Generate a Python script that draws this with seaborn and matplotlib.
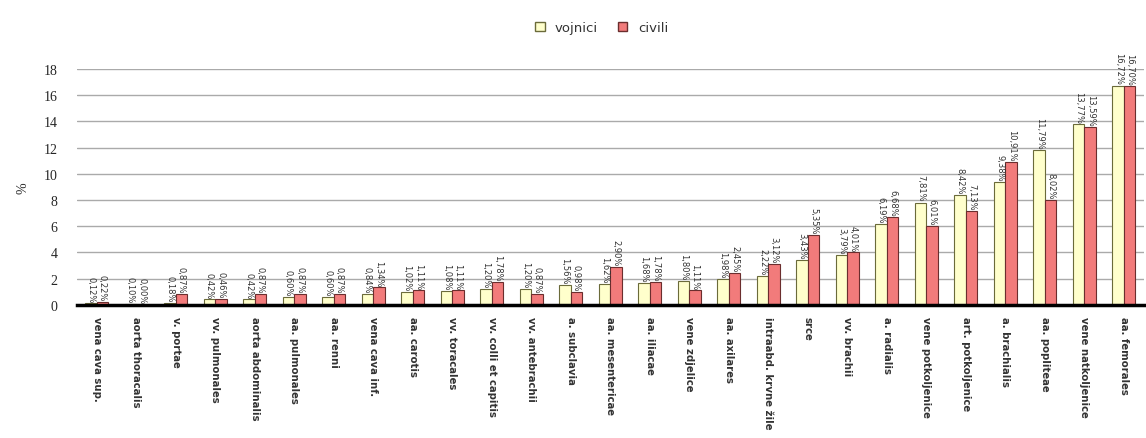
import numpy as np
import pandas as pd
import matplotlib
matplotlib.use("Agg")
import matplotlib.pyplot as plt
import seaborn as sns
from matplotlib.patches import Patch

categories = [
    "vena cava sup.", "aorta thoracalis", "v. portae", "vv. pulmonales",
    "aorta abdominalis", "aa. pulmonales", "aa. renni", "vena cava inf.",
    "aa. carotis", "vv. toracales", "vv. colli et capitis", "vv. antebrachii",
    "a. subclavia", "aa. mesentericae", "aa. iliacae", "vene zdjelice",
    "aa. axilares", "intraabd. krvne žile", "srce", "vv. brachii",
    "a. radialis", "vene potkoljenice", "art. potkoljenice", "a. brachialis",
    "aa. popliteae", "vene natkoljenice", "aa. femorales",
]
vojnici = [0.12, 0.10, 0.18, 0.42, 0.42, 0.60, 0.60, 0.84, 1.02, 1.08,
           1.20, 1.20, 1.56, 1.62, 1.68, 1.80, 1.98, 2.22, 3.43, 3.79,
           6.19, 7.81, 8.42, 9.38, 11.79, 13.77, 16.72]
civili = [0.22, 0.00, 0.87, 0.46, 0.87, 0.87, 0.87, 1.34, 1.11, 1.11,
          1.78, 0.87, 0.98, 2.90, 1.78, 1.11, 2.45, 3.12, 5.35, 4.01,
          6.68, 6.01, 7.13, 10.91, 8.02, 13.59, 16.70]
series = ["vojnici", "civili"]
yticks = [0, 2, 4, 6, 8, 10, 12, 14, 16, 18]

colors = {"vojnici": "#FFFFCC", "civili": "#F27B7B"}
edges = {"vojnici": "#6B6B3A", "civili": "#6B2E2E"}

df = pd.DataFrame({
    "kat": categories * 2,
    "serija": ["vojnici"] * len(categories) + ["civili"] * len(categories),
    "val": vojnici + civili,
})

sns.set_style("white")
plt.rcParams['font.family'] = ['DejaVu Sans']

fig = plt.figure(figsize=(11.46, 4.39), dpi=100)
ax = fig.add_axes([0.067, 0.303, 0.931, 0.538])

sns.barplot(data=df, x="kat", y="val", hue="serija", hue_order=series,
            palette=colors, saturation=1, width=0.58, ax=ax, legend=False,
            edgecolor="#555", linewidth=0.8)

for cont, s, vals in zip(ax.containers, series, [vojnici, civili]):
    for p in cont:
        p.set_edgecolor(edges[s])
    labels = [f"{v:.2f}%".replace(".", ",") for v in vals]
    ax.bar_label(cont, labels=labels, rotation=-90, fontsize=6, padding=1,
                 color="#333333")

ax.set_ylim(0, 18)
ax.set_xlim(-0.5, len(categories) - 0.5)
ax.set_yticks(yticks)
ax.set_yticklabels([str(t) for t in yticks], family="Liberation Serif",
                   fontsize=10)
ax.yaxis.grid(True, color="#AAAAAA", linewidth=1)
ax.set_axisbelow(True)
for s in ["top", "right", "left"]:
    ax.spines[s].set_visible(False)
ax.spines["bottom"].set_linewidth(2.5)
ax.spines["bottom"].set_color("black")
ax.tick_params(axis="y", length=0, pad=14)

ax.set_xticks(range(len(categories)))
ax.set_xticklabels(categories, rotation=-90, fontsize=7.3, fontweight="bold",
                   va="top", ha="center", color="#333333")
ax.tick_params(axis="x", which="major", length=0, pad=8)
ax.set_xticks(np.arange(-0.5, len(categories), 1), minor=True)
ax.tick_params(axis="x", which="minor", length=6, width=2.5, color="black",
               direction="out")
ax.set_xlabel("")
ax.set_ylabel("%", fontsize=10, labelpad=10, family="Liberation Serif")

handles = [Patch(facecolor=colors[s], edgecolor=edges[s], label=s) for s in series]
fig.legend(handles=handles, loc="center", bbox_to_anchor=(0.525, 0.935),
           ncol=2, frameon=False, fontsize=9.5, handlelength=0.7,
           handleheight=0.7, columnspacing=1.5, handletextpad=0.8,
           labelcolor="#333333")

fig.savefig("out.png", dpi=100)
